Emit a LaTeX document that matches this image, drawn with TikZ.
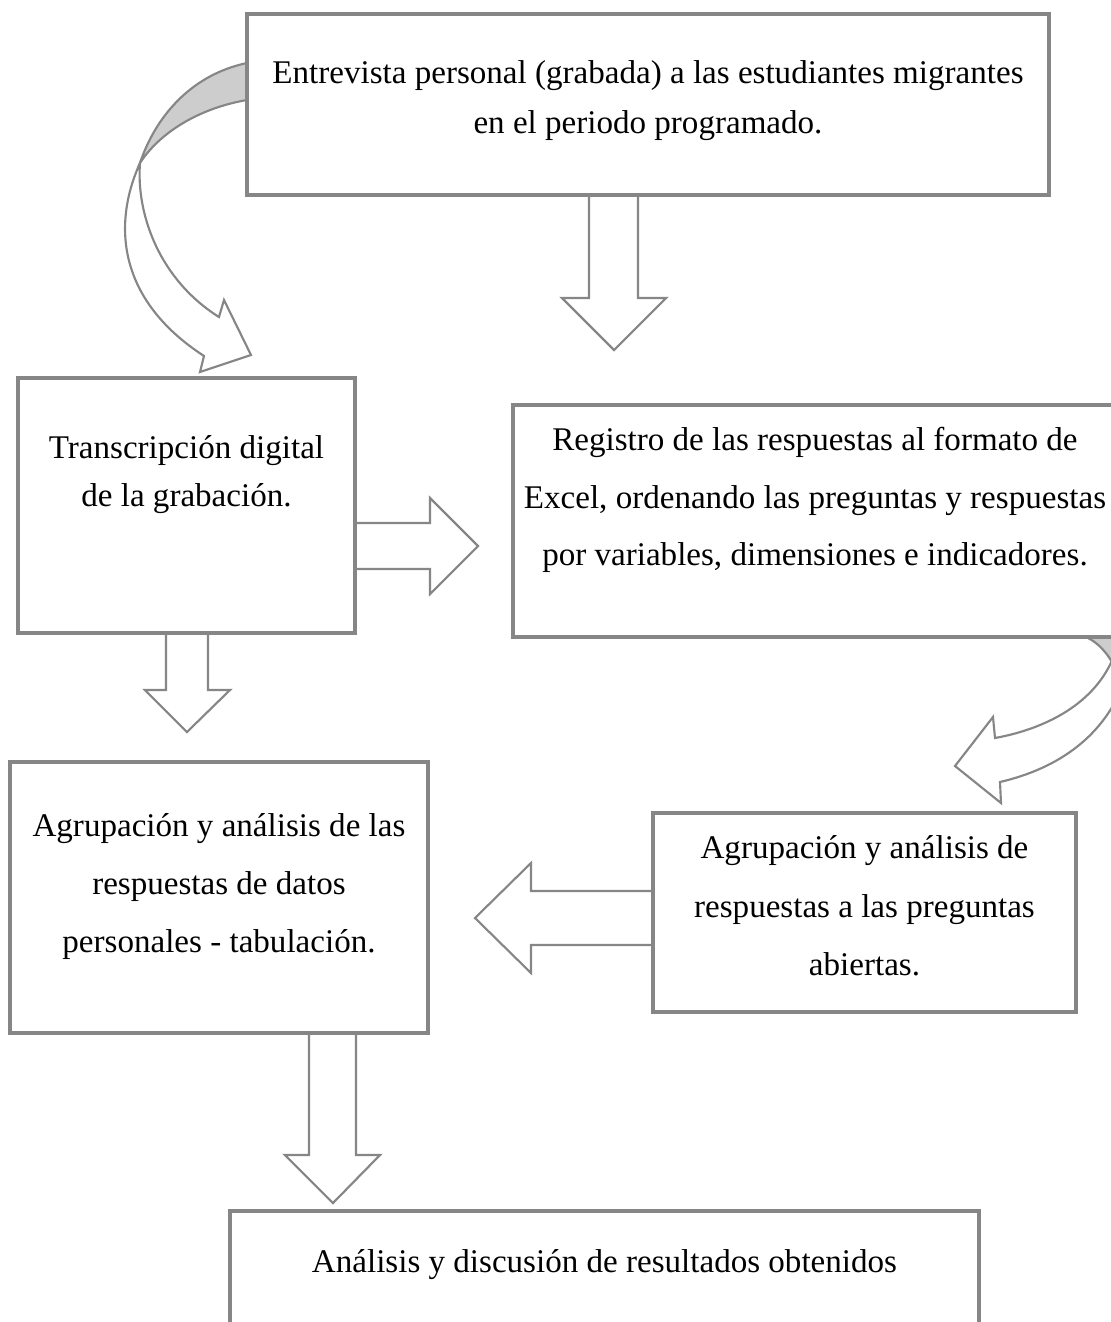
\documentclass[tikz,border=0pt]{standalone}
\usepackage{fontspec}
\setmainfont{Liberation Serif}
\usetikzlibrary{backgrounds}
\definecolor{edgegray}{HTML}{868686}
\definecolor{ribbon}{HTML}{CDCDCD}
\begin{document}
\begin{tikzpicture}[x=0.375pt,y=-0.375pt,
  box/.style={draw=edgegray, line width=1.25pt, rectangle, inner sep=0pt, outer sep=0pt},
  txt/.style={align=center, inner sep=0pt, text=black},
  blockarrow/.style={draw=edgegray, line width=0.8pt, fill=white, line join=miter},
  backside/.style={draw=edgegray, line width=0.8pt, fill=ribbon}]
\useasboundingbox (0,0) rectangle (1111,1322);
\clip (0,0) rectangle (1111,1322);

% boxes
\node[box, minimum width=802*0.375pt, minimum height=181*0.375pt] (b1) at (648,104.5) {};
\node[box, minimum width=337*0.375pt, minimum height=255*0.375pt] (b2) at (186.5,505.5) {};
\node[box, minimum width=606*0.375pt, minimum height=232*0.375pt] (b3) at (816,521) {};
\node[box, minimum width=418*0.375pt, minimum height=271*0.375pt] (b4) at (219,897.5) {};
\node[box, minimum width=423*0.375pt, minimum height=199*0.375pt] (b5) at (864.5,912.5) {};
\node[box, minimum width=749*0.375pt, minimum height=140*0.375pt] (b6) at (604.5,1281) {};

% texts
\node[txt, font=\fontsize{12.4}{18.75}\selectfont] (t1) at (648,101)
  {Entrevista personal (grabada) a las estudiantes migrantes\\en el periodo programado.};
\node[txt, font=\fontsize{12.4}{18}\selectfont] (t2) at (186.5,475)
  {Transcripción digital\\de la grabación.};
\node[txt, font=\fontsize{12.4}{21.6}\selectfont] (t3) at (815,500)
  {Registro de las respuestas al formato de\\Excel, ordenando las preguntas y respuestas\\por variables, dimensiones e indicadores.};
\node[txt, font=\fontsize{12.4}{21.75}\selectfont] (t4) at (219,887)
  {Agrupación y análisis de las\\respuestas de datos\\personales - tabulación.};
\node[txt, font=\fontsize{12.4}{21.9}\selectfont] (t5) at (864.5,906)
  {Agrupación y análisis de\\respuestas a las preguntas\\abiertas.};
\node[txt, font=\fontsize{12.4}{21.75}\selectfont] (t6) at (604.5,1265)
  {Análisis y discusión de resultados obtenidos};

\begin{scope}[on background layer]
% straight block arrows
\draw[blockarrow] (589,195) -- (589,298) -- (562,298) -- (614,350) -- (666,298) -- (638,298) -- (638,195);
\draw[blockarrow] (355,523) -- (430,523) -- (430,498) -- (478,546) -- (430,594) -- (430,569) -- (355,569);
\draw[blockarrow] (166,633) -- (166,690) -- (145,690) -- (187,732) -- (230,690) -- (208,690) -- (208,633);
\draw[blockarrow] (653,891) -- (531,891) -- (531,863) -- (475,918) -- (531,973) -- (531,945) -- (653,945);
\draw[blockarrow] (309,1033) -- (309,1155) -- (285,1155) -- (333,1203) -- (380,1155) -- (356,1155) -- (356,1033);

% curved arrow top-left
\draw[backside] (247,63) .. controls (190,75) and (155,118) .. (140,163)
  .. controls (160,132) and (200,108) .. (247,100) -- cycle;
\draw[blockarrow] (140,163) .. controls (112,225) and (118,300) .. (204,356)
  -- (200,372) -- (251,355) -- (224,300) -- (219,317)
  .. controls (160,280) and (136,215) .. (140,163) -- cycle;

% curved arrow right
\fill[ribbon] (1088,638) .. controls (1098,643) and (1106,652) .. (1112,662) -- (1120,662) -- (1120,638) -- cycle;
\draw[edgegray, line width=0.8pt] (1088,638) .. controls (1098,643) and (1106,652) .. (1112,662);
\draw[blockarrow] (1116,650) .. controls (1100,700) and (1050,728) .. (995,738)
  -- (993,717) -- (955,766) -- (1001,803) -- (1000,782)
  .. controls (1060,768) and (1105,735) .. (1125,680) -- cycle;
\end{scope}
\end{tikzpicture}
\end{document}
